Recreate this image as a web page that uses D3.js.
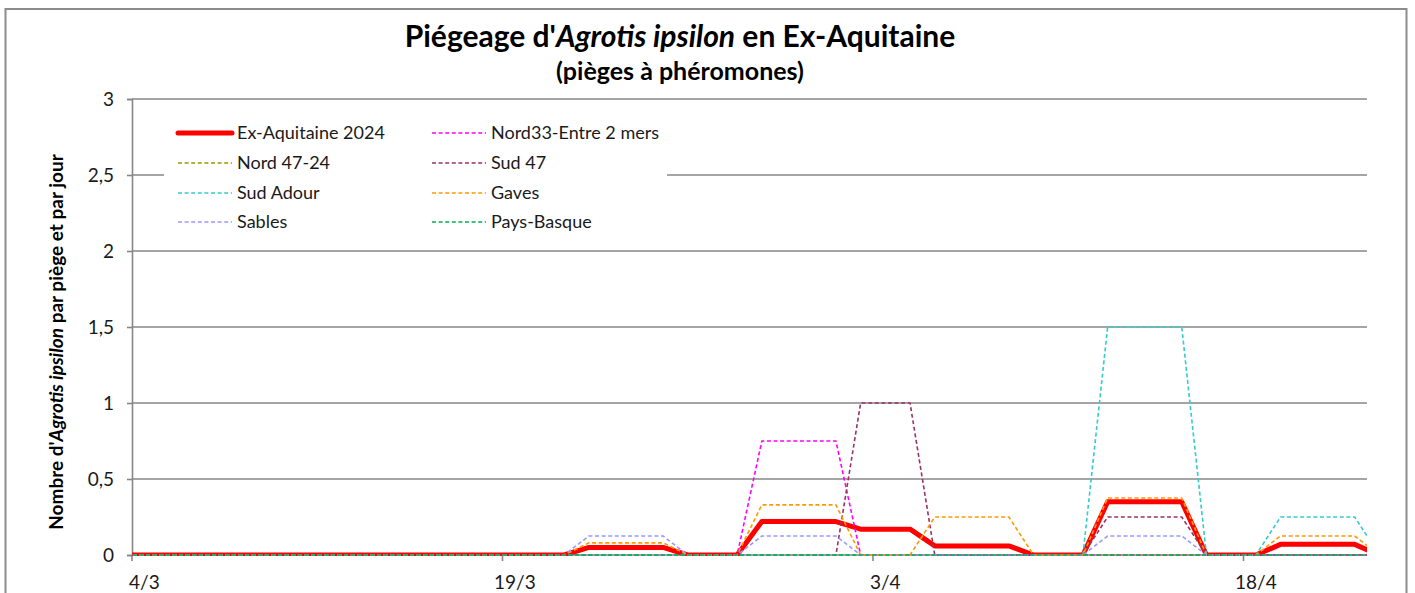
<!DOCTYPE html>
<html>
<head>
<meta charset="utf-8">
<script src="https://cdn.jsdelivr.net/npm/d3@7"></script>
<style>
  body { margin: 0; background: #fff; }
  svg { display: block; font-family: Lato, "Open Sans", sans-serif; }
</style>
</head>
<body>
<div id="chart"></div>
<script>
// categories: one per day, 3/3 -> 23/4 (first and last are outside the visible range)
var dates = d3.timeDay.range(new Date(2024, 2, 3), new Date(2024, 3, 24));
var dayLabels = dates.map(function(d){ return d.getDate() + "/" + (d.getMonth() + 1); });
var tickDays = ["4/3", "19/3", "3/4", "18/4"];
var yTicks = [0, 0.5, 1, 1.5, 2, 2.5, 3];

// values per day (nombre / piège / jour)
//              3/3 |4/3 ............................................ 21/3| 22-25/3            |26-28/3|29/3-1/4           |2-4/4        |5-8/4              |9-11/4 |12-15/4                |16-18/4|19-22/4                |23/4
var exAquitaine = [0, 0,0,0,0,0,0,0,0,0,0,0,0,0,0,0,0,0,0, 0.05,0.05,0.05,0.05, 0,0,0, 0.22,0.22,0.22,0.22, 0.17,0.17,0.17, 0.06,0.06,0.06,0.06, 0,0,0, 0.35,0.35,0.35,0.35, 0,0,0, 0.07,0.07,0.07,0.07, 0];
var nord33      = [0, 0,0,0,0,0,0,0,0,0,0,0,0,0,0,0,0,0,0, 0,0,0,0,             0,0,0, 0.75,0.75,0.75,0.75, 0,0,0,            0,0,0,0,             0,0,0, 0,0,0,0,                 0,0,0, 0,0,0,0,                 0];
var nord4724    = [0, 0,0,0,0,0,0,0,0,0,0,0,0,0,0,0,0,0,0, 0,0,0,0,             0,0,0, 0,0,0,0,             0,0,0,            0,0,0,0,             0,0,0, 0,0,0,0,                 0,0,0, 0,0,0,0,                 0];
var sud47       = [0, 0,0,0,0,0,0,0,0,0,0,0,0,0,0,0,0,0,0, 0,0,0,0,             0,0,0, 0,0,0,0,             1,1,1,            0,0,0,0,             0,0,0, 0.25,0.25,0.25,0.25,     0,0,0, 0,0,0,0,                 0];
var sudAdour    = [0, 0,0,0,0,0,0,0,0,0,0,0,0,0,0,0,0,0,0, 0,0,0,0,             0,0,0, 0,0,0,0,             0,0,0,            0,0,0,0,             0,0,0, 1.5,1.5,1.5,1.5,         0,0,0, 0.25,0.25,0.25,0.25,     0];
var gaves       = [0, 0,0,0,0,0,0,0,0,0,0,0,0,0,0,0,0,0,0, 0.08,0.08,0.08,0.08, 0,0,0, 0.33,0.33,0.33,0.33, 0,0,0,            0.25,0.25,0.25,0.25, 0,0,0, 0.375,0.375,0.375,0.375, 0,0,0, 0.125,0.125,0.125,0.125, 0];
var sables      = [0, 0,0,0,0,0,0,0,0,0,0,0,0,0,0,0,0,0,0, 0.125,0.125,0.125,0.125, 0,0,0, 0.125,0.125,0.125,0.125, 0,0,0,      0,0,0,0,             0,0,0, 0.125,0.125,0.125,0.125, 0,0,0, 0,0,0,0,                 0];
var paysBasque  = [0, 0,0,0,0,0,0,0,0,0,0,0,0,0,0,0,0,0,0, 0,0,0,0,             0,0,0, 0,0,0,0,             0,0,0,            0,0,0,0,             0,0,0, 0,0,0,0,                 0,0,0, 0,0,0,0,                 0];

var seriesNames  = ["Ex-Aquitaine 2024", "Nord33-Entre 2 mers", "Nord 47-24", "Sud 47", "Sud Adour", "Gaves", "Sables", "Pays-Basque"];
var seriesValues = [exAquitaine, nord33, nord4724, sud47, sudAdour, gaves, sables, paysBasque];
var seriesColors = ["#ff0000", "#ff00ff", "#999900", "#993366", "#33cccc", "#ff9900", "#9999ff", "#00b050"];

var W = 1415, H = 593;
var margin = { top: 99, right: W - 1367, bottom: H - 555, left: 132 };
var plotW = W - margin.left - margin.right;
var plotH = H - margin.top - margin.bottom;

var svg = d3.select("#chart").append("svg").attr("width", W).attr("height", H);
svg.append("rect").attr("width", W).attr("height", H).attr("fill", "#fff");
// chart border
svg.append("rect").attr("x", 5.5).attr("y", 9).attr("width", 1401).attr("height", 620)
  .attr("fill", "none").attr("stroke", "#8c8c8c").attr("stroke-width", 2);

// titles
var title = svg.append("text").attr("x", 680).attr("y", 47).attr("text-anchor", "middle")
  .attr("font-size", 30).attr("font-weight", "bold").attr("fill", "#000");
title.append("tspan").text("Piégeage d'");
title.append("tspan").attr("font-style", "italic").text("Agrotis ipsilon");
title.append("tspan").text(" en Ex-Aquitaine");
svg.append("text").attr("x", 680).attr("y", 80).attr("text-anchor", "middle")
  .attr("font-size", 25).attr("font-weight", "bold").text("(pièges à phéromones)");

var g = svg.append("g").attr("transform", "translate(" + margin.left + "," + margin.top + ")");

// index 1 (4/3) starts the visible range, index 51 (23/4) just past it
var x = d3.scaleLinear().domain([1, 51]).range([0, plotW]);
var y = d3.scaleLinear().domain([0, 3]).range([plotH, 0]);

// gridlines
g.selectAll(".grid").data(yTicks.filter(function(v){ return v > 0; })).enter()
  .append("line").attr("class", "grid")
  .attr("x1", 0).attr("x2", plotW)
  .attr("y1", function(d){ return y(d); }).attr("y2", function(d){ return y(d); })
  .attr("stroke", "#878787").attr("stroke-width", 1.6);

// y axis
var yAxis = g.append("g").call(d3.axisLeft(y).tickValues(yTicks).tickSize(5).tickPadding(13)
  .tickFormat(function(d){ return String(d).replace(".", ","); }));
yAxis.select(".domain").attr("stroke", "#878787").attr("stroke-width", 1.6);
yAxis.selectAll(".tick line").attr("stroke", "#878787").attr("stroke-width", 1.6);
yAxis.selectAll("text").attr("font-family", "Lato, sans-serif").attr("font-size", 19).attr("fill", "#1a1a1a");

// x axis: ticks on category boundaries, labels centred in the category
var tickIdx = tickDays.map(function(t){ return dayLabels.indexOf(t); });
var xAxis = g.append("g").attr("transform", "translate(0," + plotH + ")");
xAxis.append("line").attr("x1", 0).attr("x2", plotW).attr("stroke", "#878787").attr("stroke-width", 1.6);
xAxis.selectAll(".xt").data(tickIdx).enter().append("line").attr("class", "xt")
  .attr("x1", function(d){ return x(d); }).attr("x2", function(d){ return x(d); })
  .attr("y1", 0).attr("y2", 6).attr("stroke", "#878787").attr("stroke-width", 1.6);
xAxis.selectAll(".xl").data(tickIdx).enter().append("text").attr("class", "xl")
  .attr("x", function(d){ return x(d + 0.5); }).attr("y", 34)
  .attr("text-anchor", "middle").attr("font-size", 19).attr("fill", "#1a1a1a")
  .text(function(d){ return dayLabels[d]; });

// y axis title
var yt = svg.append("text").attr("transform", "translate(63,342) rotate(-90)")
  .attr("text-anchor", "middle").attr("font-size", 19).attr("font-weight", "bold");
yt.append("tspan").text("Nombre d'");
yt.append("tspan").attr("font-style", "italic").text("Agrotis ipsilon");
yt.append("tspan").text(" par piège et par jour");

// series
svg.append("clipPath").attr("id", "plotclip").append("rect")
  .attr("x", 0).attr("y", -3).attr("width", plotW).attr("height", plotH + 4);

var line = d3.line()
  .x(function(d, i){ return x(i + 0.5); })
  .y(function(d){ return y(d); });

var lines = g.append("g").attr("clip-path", "url(#plotclip)");
seriesValues.forEach(function(vals, k){
  lines.append("path").datum(vals)
    .attr("d", line)
    .attr("fill", "none")
    .attr("stroke", seriesColors[k])
    .attr("stroke-width", k === 0 ? 5 : 1.6)
    .attr("stroke-dasharray", k === 0 ? null : "4,2.6")
    .attr("stroke-linejoin", "round");
});

// legend (inside plot, white box)
var legend = svg.append("g");
legend.append("rect").attr("x", 164).attr("y", 112).attr("width", 503).attr("height", 128).attr("fill", "#fff");
var legCols = [178, 432], legRows = [133, 163, 193, 222];
seriesNames.forEach(function(name, k){
  var lx = legCols[k % 2], ly = legRows[Math.floor(k / 2)];
  legend.append("line").attr("x1", lx).attr("x2", lx + 54).attr("y1", ly).attr("y2", ly)
    .attr("stroke", seriesColors[k])
    .attr("stroke-width", k === 0 ? 5 : 1.6)
    .attr("stroke-linecap", k === 0 ? "round" : "butt")
    .attr("stroke-dasharray", k === 0 ? null : "4,2.6");
  legend.append("text").attr("x", lx + 59).attr("y", ly + 6)
    .attr("font-size", 18).attr("fill", "#1a1a1a").text(name);
});
</script>
</body>
</html>
